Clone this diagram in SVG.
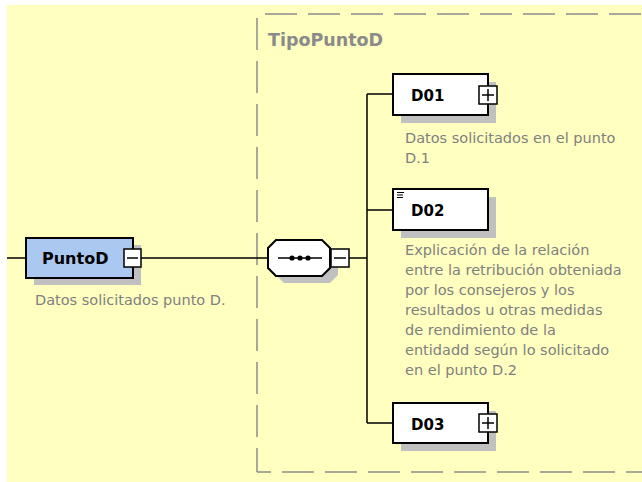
<svg xmlns="http://www.w3.org/2000/svg" width="642" height="482" viewBox="0 0 642 482">
<defs>
<style>
.bg{fill:#FFFFC0}
.frame{stroke:#8c8c8c;stroke-width:1.5;stroke-dasharray:32 11;fill:none}
.shadow{fill:#c0c0c0}
.box{fill:#fff;stroke:#000;stroke-width:2}
.elem{fill:#AAC8F0;stroke:#000;stroke-width:2}
.btn{fill:#fff;stroke:#000;stroke-width:1.5}
.sym{stroke:#000;stroke-width:1.5;fill:none}
.conn{stroke:#000;stroke-width:1.5;fill:none}
.name{font-family:"DejaVu Sans",Verdana,sans-serif;font-weight:bold;fill:#000}
.desc{font-family:"DejaVu Sans",Verdana,sans-serif;font-size:14.5px;fill:#808080}
.title{font-family:"DejaVu Sans",Verdana,sans-serif;font-weight:bold;font-size:17.5px;fill:#8a8a8a}
</style>
</defs>
<rect class="bg" x="7" y="5" width="635" height="477"/>
<g id="TipoPuntoD">
<line class="frame" x1="265" y1="14" x2="642" y2="14"/>
<line class="frame" x1="257" y1="18" x2="257" y2="472"/>
<line class="frame" x1="257" y1="472" x2="642" y2="472" stroke-dashoffset="18"/>
<text class="title" x="268" y="46">TipoPuntoD</text>
</g>
<g id="connectors">
<path class="conn" d="M7 258H26M141 258H268M349 258H367M367 94V423M367 94H393M367 210H393M367 423H393"/>
</g>
<g id="PuntoD">
<rect class="shadow" x="34" y="245" width="107" height="40"/>
<rect class="elem" x="26" y="238" width="107" height="40"/>
<rect class="btn" x="124" y="249" width="17" height="18"/>
<line class="sym" x1="127" y1="258" x2="138" y2="258"/>
<text class="name" x="42" y="264" font-size="16">PuntoD</text>
<text class="desc" x="35" y="305">Datos solicitados punto D.</text>
</g>
<g id="sequence">
<polygon class="shadow" points="284,247 330,247 338,255 338,275 330,283 284,283 276,275 276,255"/>
<polygon class="box" points="276,240 322,240 330,248 330,268 322,276 276,276 268,268 268,248"/>
<line class="sym" x1="278" y1="258" x2="322" y2="258"/>
<circle cx="292" cy="258" r="2.6"/>
<circle cx="300" cy="258" r="2.6"/>
<circle cx="308" cy="258" r="2.6"/>
<rect class="btn" x="331" y="249" width="18" height="18"/>
<line class="sym" x1="334" y1="258" x2="346" y2="258"/>
</g>
<g id="D01">
<rect class="shadow" x="401" y="82" width="95" height="41"/>
<rect class="box" x="393" y="74" width="95" height="41"/>
<rect class="btn" x="479" y="86" width="18" height="18"/>
<path class="sym" d="M482 95H494M488 89V101"/>
<text class="name" x="411" y="101" font-size="15">D01</text>
<text class="desc" x="405" y="143">Datos solicitados en el punto</text>
<text class="desc" x="405" y="163">D.1</text>
</g>
<g id="D02">
<rect class="shadow" x="401" y="197" width="95" height="41"/>
<rect class="box" x="393" y="189" width="95" height="41"/>
<path d="M397 192.5H404M397 195H403M397 197.5H403" stroke="#000" stroke-width="1"/>
<text class="name" x="411" y="216" font-size="15">D02</text>
<text class="desc" x="405" y="255">Explicación de la relación</text>
<text class="desc" x="405" y="275">entre la retribución obteniada</text>
<text class="desc" x="405" y="295">por los consejeros y los</text>
<text class="desc" x="405" y="315">resultados u otras medidas</text>
<text class="desc" x="405" y="335">de rendimiento de la</text>
<text class="desc" x="405" y="355">entidadd según lo solicitado</text>
<text class="desc" x="405" y="375">en el punto D.2</text>
</g>
<g id="D03">
<rect class="shadow" x="401" y="411" width="95" height="40"/>
<rect class="box" x="393" y="403" width="95" height="40"/>
<rect class="btn" x="479" y="414" width="18" height="18"/>
<path class="sym" d="M482 423H494M488 417V429"/>
<text class="name" x="411" y="430" font-size="15">D03</text>
</g>
</svg>
